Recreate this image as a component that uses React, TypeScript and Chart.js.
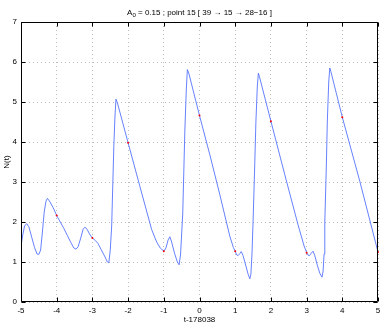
import React, { useEffect, useRef } from "react";
import { Chart, registerables } from "chart.js";

Chart.register(...registerables);

const tValues = [
  -5.0, -4.95, -4.9, -4.84, -4.78, -4.7, -4.62, -4.55, -4.5, -4.45, -4.4, -4.35, -4.3, -4.26, -4.2, -4.1, -4.0,
  -3.9, -3.8, -3.7, -3.6, -3.52, -3.46, -3.4, -3.32, -3.26, -3.21, -3.15, -3.08, -3.0, -2.92, -2.84, -2.76,
  -2.66, -2.58, -2.54, -2.5, -2.46, -2.4, -2.37, -2.34, -2.3, -2.0, -1.67, -1.34, -1.2, -1.1, -1.0, -0.94,
  -0.88, -0.83, -0.78, -0.7, -0.62, -0.57, -0.53, -0.47, -0.41, -0.37, -0.34, -0.3, 0.0, 0.29, 0.57, 0.85,
  0.95, 1.0, 1.04, 1.08, 1.13, 1.17, 1.22, 1.3, 1.36, 1.41, 1.44, 1.47, 1.5, 1.54, 1.58, 1.62, 1.65, 1.68,
  2.0, 2.39, 2.76, 2.93, 3.0, 3.04, 3.08, 3.13, 3.18, 3.23, 3.3, 3.37, 3.43, 3.46, 3.49, 3.51, 3.55, 3.58,
  3.62, 3.65, 3.68, 4.0, 4.49, 5.0,
];
const nValues = [
  1.4, 1.68, 1.9, 1.96, 1.88, 1.62, 1.36, 1.2, 1.19, 1.3, 1.75, 2.25, 2.52, 2.59, 2.52, 2.36, 2.16,
  2.0, 1.84, 1.66, 1.48, 1.35, 1.32, 1.38, 1.62, 1.82, 1.87, 1.82, 1.7, 1.6, 1.54, 1.46, 1.32,
  1.15, 1.0, 0.98, 1.3, 1.9, 3.89, 4.6, 5.07, 4.98, 3.98, 2.89, 1.81, 1.5, 1.35, 1.27, 1.35,
  1.55, 1.63, 1.5, 1.22, 1.0, 0.93, 1.2, 2.2, 4.3, 5.3, 5.81, 5.72, 4.66, 3.68, 2.68, 1.64,
  1.36, 1.27, 1.18, 1.16, 1.21, 1.26, 1.16, 0.9, 0.7, 0.58, 0.7, 1.2, 2.0, 3.2, 4.5, 5.4, 5.72, 5.63,
  4.52, 3.18, 1.93, 1.4, 1.24, 1.17, 1.16, 1.22, 1.27, 1.16, 0.92, 0.72, 0.62, 0.75, 1.2, 2.0, 3.3, 4.5,
  5.5, 5.85, 5.76, 4.62, 3.02, 1.25,
];

const markT = [-4, -3, -2, -1, 0, 1, 2, 3, 4, 5];
const markN = [2.16, 1.6, 3.98, 1.27, 4.66, 1.27, 4.52, 1.23, 4.62, 1.25];

const xTicks = [-5, -4, -3, -2, -1, 0, 1, 2, 3, 4, 5];
const yTicks = [0, 1, 2, 3, 4, 5, 6, 7];

const FONT = "'Liberation Sans', Arial, Helvetica, sans-serif";

const framePlugin = {
  id: "frame",
  afterDraw(chart: any) {
    const { ctx, chartArea } = chart;
    const { left, right, top, bottom } = chartArea;
    const xs = chart.scales.x;
    const ys = chart.scales.y;
    ctx.save();
    ctx.strokeStyle = "#000";
    ctx.lineWidth = 1;
    ctx.beginPath();
    const L = Math.round(left) + 0.5;
    const R = Math.round(right) - 0.5;
    const T = Math.round(top) + 0.5;
    const B = Math.round(bottom) - 0.5;
    ctx.rect(L, T, R - L, B - T);
    const tl = 4;
    xTicks.forEach((v) => {
      const px = Math.round(xs.getPixelForValue(v)) + 0.5;
      ctx.moveTo(px, B);
      ctx.lineTo(px, B - tl);
      ctx.moveTo(px, T);
      ctx.lineTo(px, T + tl);
    });
    yTicks.forEach((v) => {
      const py = Math.round(ys.getPixelForValue(v)) + 0.5;
      ctx.moveTo(L, py);
      ctx.lineTo(L + tl, py);
      ctx.moveTo(R, py);
      ctx.lineTo(R - tl, py);
    });
    ctx.stroke();

    // Title with subscript
    const cx = (left + right) / 2;
    const ty = 12;
    const main = `8px ${FONT}`;
    const sub = `6px ${FONT}`;
    const p1 = "A";
    const p2 = "0";
    const p3 = " = 0.15 ; point 15 [ 39 \u2192 15 \u2192 28\u221216 ]";
    ctx.font = main;
    const w1 = ctx.measureText(p1).width;
    const w3 = ctx.measureText(p3).width;
    ctx.font = sub;
    const w2 = ctx.measureText(p2).width;
    let x = cx - (w1 + w2 + w3) / 2;
    ctx.fillStyle = "#000";
    ctx.textBaseline = "alphabetic";
    ctx.font = main;
    ctx.fillText(p1, x, ty + 3);
    x += w1;
    ctx.font = sub;
    ctx.fillText(p2, x, ty + 5);
    x += w2;
    ctx.font = main;
    ctx.fillText(p3, x, ty + 3);
    ctx.restore();
  },
};

export default function App() {
  const ref = useRef<HTMLCanvasElement>(null);
  useEffect(() => {
    if (!ref.current) return;
    const lineData = tValues.map((t, i) => ({ x: t, y: nValues[i] }));
    const markData = markT.map((t, i) => ({ x: t, y: markN[i] }));
    const chart = new Chart(ref.current, {
      type: "line",
      data: {
        datasets: [
          {
            data: markData,
            showLine: false,
            pointRadius: 1,
            pointBackgroundColor: "#ff0000",
            pointBorderColor: "#ff0000",
            pointBorderWidth: 0,
            clip: false,
            order: 0,
          },
          {
            data: lineData,
            borderColor: "rgb(85,115,255)",
            borderWidth: 0.9,
            pointRadius: 0,
            tension: 0,
            fill: false,
            order: 1,
          },
        ],
      },
      options: {
        animation: false,
        responsive: false,
        devicePixelRatio: 1,
        layout: { padding: { top: 22, right: 8, left: 0, bottom: 0 } },
        plugins: { legend: { display: false }, tooltip: { enabled: false }, title: { display: false } },
        scales: {
          x: {
            type: "linear",
            min: -5,
            max: 5,
            afterFit: (s: any) => {
              s.height = 25;
            },
            afterBuildTicks: (s: any) => {
              s.ticks = xTicks.map((v) => ({ value: v }));
            },
            ticks: { color: "#000", font: { size: 8, family: FONT }, padding: 4, maxRotation: 0 },
            grid: { color: "#bdbdbd", lineWidth: 1, drawTicks: false },
            border: { display: false, dash: [1, 3] },
            title: {
              display: true,
              text: "t-178038",
              color: "#000",
              font: { size: 8, family: FONT },
              padding: { top: 0, bottom: 2 },
            },
          },
          y: {
            type: "linear",
            min: 0,
            max: 7,
            afterFit: (s: any) => {
              s.width = 21;
            },
            afterBuildTicks: (s: any) => {
              s.ticks = yTicks.map((v) => ({ value: v }));
            },
            ticks: { color: "#000", font: { size: 8, family: FONT }, padding: 4 },
            grid: { color: "#bdbdbd", lineWidth: 1, drawTicks: false },
            border: { display: false, dash: [1, 3] },
            title: {
              display: true,
              text: "N(t)",
              color: "#000",
              font: { size: 8, family: FONT },
              padding: { top: 2, bottom: 0 },
            },
          },
        },
      },
      plugins: [framePlugin],
    });
    return () => chart.destroy();
  }, []);
  return (
    <div style={{ position: "fixed", left: 0, top: 0, width: 386, height: 327, background: "#fff" }}>
      <canvas ref={ref} width={386} height={327} style={{ width: 386, height: 327, display: "block" }} />
    </div>
  );
}
